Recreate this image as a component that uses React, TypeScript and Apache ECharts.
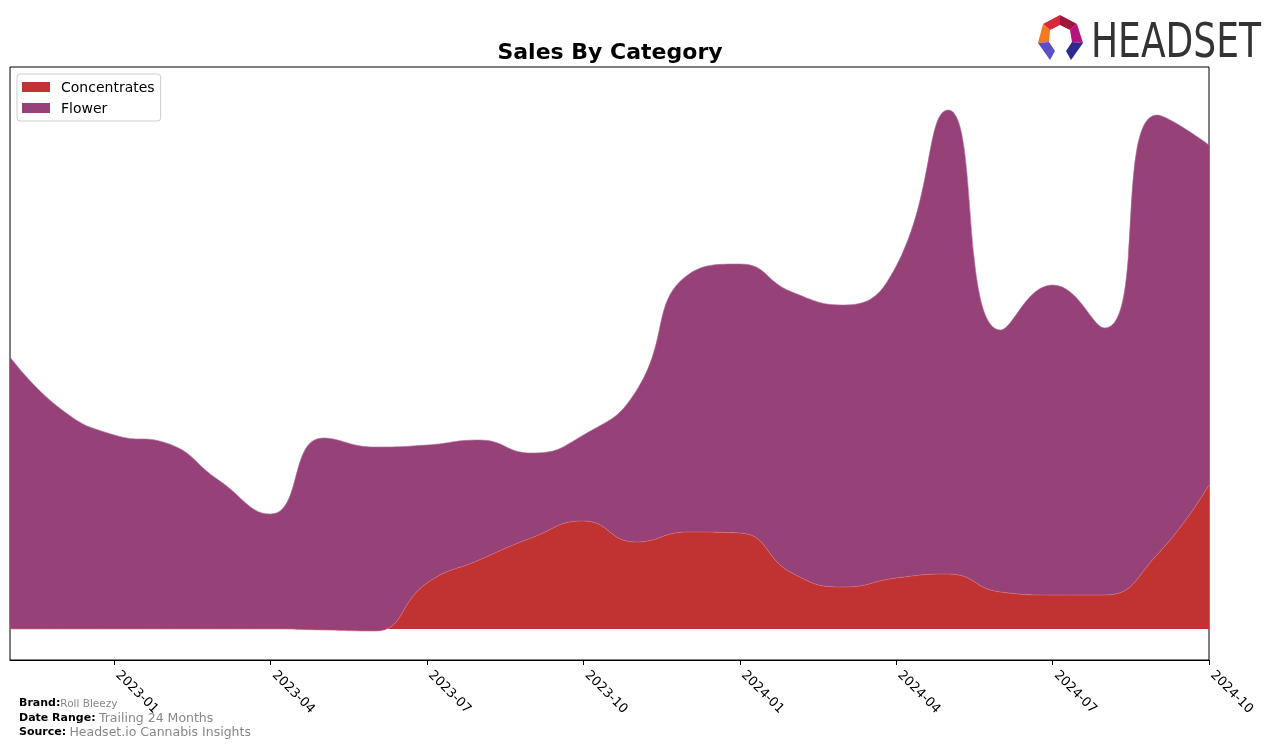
import React, { useEffect, useRef } from "react";
import * as echarts from "echarts";

const months = [
  "2022-11", "2022-12", "2023-01", "2023-02", "2023-03", "2023-04",
  "2023-05", "2023-06", "2023-07", "2023-08", "2023-09", "2023-10",
  "2023-11", "2023-12", "2024-01", "2024-02", "2024-03", "2024-04",
  "2024-05", "2024-06", "2024-07", "2024-08", "2024-09", "2024-10",
];
const concentrates = [0, 0, 0, 0, 0, 0, -1, -2, 46, 69, 91, 108, 87, 97, 96, 56, 42, 51, 55, 37, 34, 34, 74, 144];
const flower = [272, 219, 194, 186, 149, 115, 192, 184, 138, 120, 85, 86, 150, 257, 269, 281, 282, 312, 464, 262, 310, 267, 440, 340];
const tickLabels = ["2023-01", "2023-04", "2023-07", "2023-10", "2024-01", "2024-04", "2024-07", "2024-10"];

export default function App() {
  const ref = useRef<HTMLDivElement>(null);
  useEffect(() => {
    if (!ref.current) return;
    const chart = echarts.init(ref.current, null, { renderer: "svg" });
    const font = "DejaVu Sans, sans-serif";
    const showTick = (index: number) => tickLabels.indexOf(months[index]) >= 0;
    chart.setOption({
      animation: false,
      textStyle: { fontFamily: font },
      grid: { left: 10, right: 67, top: 67, bottom: 88, show: true, borderColor: "#000", borderWidth: 1, containLabel: false },
      legend: {
        orient: "vertical",
        left: 17,
        top: 74,
        padding: [6, 6, 6, 5],
        itemGap: 7,
        itemWidth: 28,
        itemHeight: 10,
        borderColor: "#cccccc",
        borderWidth: 1,
        borderRadius: 3,
        icon: "rect",
        textStyle: { fontFamily: font, fontSize: 14, color: "#000", lineHeight: 14, padding: [0, 0, 0, 6] },
        data: ["Concentrates", "Flower"],
      },
      xAxis: {
        type: "category",
        data: months,
        boundaryGap: false,
        axisLine: { show: true, onZero: false, lineStyle: { color: "#000", width: 1 } },
        axisTick: { show: true, length: 5, lineStyle: { color: "#000" }, interval: (i: number) => showTick(i) },
        splitLine: { show: false },
        axisLabel: {
          interval: (i: number) => showTick(i),
          rotate: -45,
          margin: 8,
          padding: [0, 0, 0, 6],
          color: "#000",
          fontSize: 13,
          fontFamily: font,
        },
      },
      yAxis: {
        type: "value",
        min: -31,
        max: 562,
        axisLine: { show: false },
        axisTick: { show: false },
        axisLabel: { show: false },
        splitLine: { show: false },
      },
      series: [
        {
          name: "Concentrates",
          type: "line",
          stack: "total",
          stackStrategy: "all",
          smooth: 0.5,
          symbol: "none",
          color: "#C03332",
          lineStyle: { width: 0.6, color: "#d97070" },
          areaStyle: { color: "#C03332", opacity: 1 },
          data: concentrates,
        },
        {
          name: "Flower",
          type: "line",
          stack: "total",
          stackStrategy: "all",
          smooth: 0.5,
          symbol: "none",
          color: "#964178",
          lineStyle: { width: 0.6, color: "#b0709a" },
          areaStyle: { color: "#964178", opacity: 1 },
          data: flower,
        },
      ],
      graphic: [
        {
          type: "text",
          x: 610,
          y: 40,
          style: { text: "Sales By Category", font: "bold 22px DejaVu Sans", fill: "#000", align: "center" },
        },
        {
          type: "text",
          x: 19,
          y: 697,
          style: {
            text: "{b|Brand:}{v|Roll Bleezy}",
            rich: {
              b: { fontFamily: font, fontWeight: "bold", fontSize: 11, fill: "#000" },
              v: { fontFamily: font, fontSize: 10.5, fill: "#888" },
            },
          },
        },
        {
          type: "text",
          x: 19,
          y: 711,
          style: {
            text: "{b|Date Range:} {v|Trailing 24 Months}",
            rich: {
              b: { fontFamily: font, fontWeight: "bold", fontSize: 11, fill: "#000" },
              v: { fontFamily: font, fontSize: 12.5, fill: "#888" },
            },
          },
        },
        {
          type: "text",
          x: 19,
          y: 725,
          style: {
            text: "{b|Source:} {v|Headset.io Cannabis Insights}",
            rich: {
              b: { fontFamily: font, fontWeight: "bold", fontSize: 11, fill: "#000" },
              v: { fontFamily: font, fontSize: 12.5, fill: "#888" },
            },
          },
        },
        { type: "polygon", shape: { points: [[1043, 24], [1060, 15], [1060, 25], [1050, 30]] }, style: { fill: "#D8283A" } },
        { type: "polygon", shape: { points: [[1060, 15], [1077, 24], [1070, 30], [1060, 25]] }, style: { fill: "#A0163C" } },
        { type: "polygon", shape: { points: [[1043, 24], [1050, 30], [1049, 42], [1038, 43]] }, style: { fill: "#F07A22" } },
        { type: "polygon", shape: { points: [[1077, 24], [1083, 43], [1072, 42], [1070, 30]] }, style: { fill: "#B8127E" } },
        { type: "polygon", shape: { points: [[1038, 43], [1049, 42], [1055, 51], [1050, 60]] }, style: { fill: "#5A4FC8" } },
        { type: "polygon", shape: { points: [[1083, 43], [1072, 42], [1066, 51], [1071, 60]] }, style: { fill: "#2E2A8E" } },
        {
          type: "text",
          x: 1091,
          y: 16,
          scaleX: 0.835,
          style: { text: "HEADSET", font: "48px 'Liberation Sans Narrow', 'DejaVu Sans Condensed', sans-serif", fill: "#333333" },
        },
      ],
    });
    return () => chart.dispose();
  }, []);
  return <div ref={ref} style={{ position: "fixed", left: 0, top: 0, width: 1276, height: 748 }} />;
}
